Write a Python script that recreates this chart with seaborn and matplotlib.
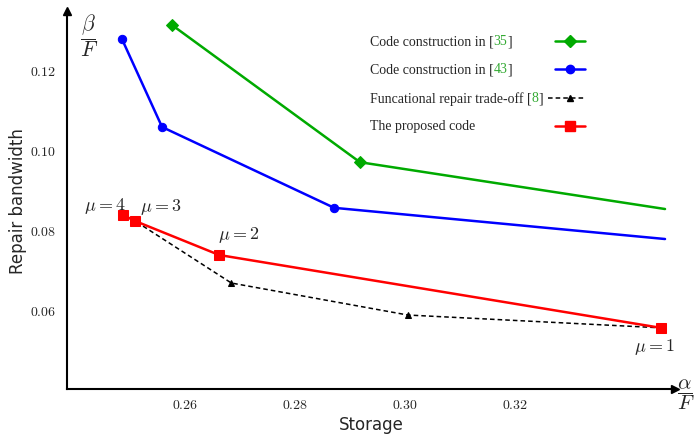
import numpy as np
import pandas as pd
import matplotlib
matplotlib.use("Agg")
import matplotlib.pyplot as plt
import seaborn as sns

# ---------------- data ----------------
storage_35 = [0.2576, 0.2918, 0.3473]
bw_35 = [0.1310, 0.0967, 0.0850]

storage_43 = [0.2485, 0.2558, 0.2871, 0.3473]
bw_43 = [0.1275, 0.1055, 0.0853, 0.0775]

storage_fr = [0.2487, 0.2509, 0.2684, 0.3005, 0.3465]
bw_fr = [0.0835, 0.0820, 0.0665, 0.0585, 0.0553]

storage_prop = [0.2487, 0.2509, 0.2662, 0.3465]
bw_prop = [0.0835, 0.0820, 0.0735, 0.0553]
mu_labels = [r"$\mu=4$", r"$\mu=3$", r"$\mu=2$", r"$\mu=1$"]

series_names = ["Code construction in [35]", "Code construction in [43]",
                "Funcational repair trade-off [8]", "The proposed code"]
series_colors = ["#00aa00", "#0000ff", "black", "#ff0000"]
x_ticks = [0.26, 0.28, 0.30, 0.32]
y_ticks = [0.06, 0.08, 0.10, 0.12]

df = pd.concat([
    pd.DataFrame({"storage": storage_35, "bw": bw_35, "series": series_names[0]}),
    pd.DataFrame({"storage": storage_43, "bw": bw_43, "series": series_names[1]}),
    pd.DataFrame({"storage": storage_fr, "bw": bw_fr, "series": series_names[2]}),
    pd.DataFrame({"storage": storage_prop, "bw": bw_prop, "series": series_names[3]}),
], ignore_index=True)

# ---------------- style ----------------
sns.set_style("white")
plt.rcParams["mathtext.fontset"] = "cm"
plt.rcParams["font.family"] = ["DejaVu Sans"]

fig = plt.figure(figsize=(6.94, 4.35), dpi=100)
ax = fig.add_axes([0.0965, 0.1034, 0.876, 0.869])

styles = {
    series_names[0]: dict(marker="D", ms=6, lw=1.8, ls="-", last=False),
    series_names[1]: dict(marker="o", ms=6, lw=1.8, ls="-", last=False),
    series_names[2]: dict(marker="^", ms=5, lw=1.1, ls=(0, (3, 2)), last=True),
    series_names[3]: dict(marker="s", ms=7, lw=1.8, ls="-", last=True),
}

# black drawn before red so the red squares sit on top
for name, color in zip(series_names, series_colors):
    st = styles[name]
    sub = df[df["series"] == name]
    n = len(sub)
    every = list(range(n)) if st["last"] else list(range(n - 1))
    sns.lineplot(data=sub, x="storage", y="bw", ax=ax,
                 color=color, marker=st["marker"], markersize=st["ms"],
                 markevery=every, linewidth=st["lw"], linestyle=st["ls"],
                 markeredgecolor=color, sort=False, legend=False)

ax.set_xlim(0.2385, 0.3491)
ax.set_ylim(0.04, 0.1345)
ax.set_xticks(x_ticks)
ax.set_xticklabels([rf"${v:.2f}$" for v in x_ticks], fontsize=10)
ax.set_yticks(y_ticks)
ax.set_yticklabels([rf"${v:.2f}$" for v in y_ticks], fontsize=10)
ax.tick_params(axis="x", length=0, pad=6)
ax.tick_params(axis="y", length=0, pad=8)

ax.set_xlabel("Storage", fontsize=12)
ax.xaxis.set_label_coords(0.5, -0.068)
ax.set_ylabel("Repair bandwidth", fontsize=12)
ax.yaxis.set_label_coords(-0.066, 0.5)

for s in ["top", "right"]:
    ax.spines[s].set_visible(False)
for s in ["left", "bottom"]:
    ax.spines[s].set_color("black")
    ax.spines[s].set_linewidth(1.5)

# axis arrows
ax.plot(1, 0, ">k", transform=ax.transAxes, clip_on=False, ms=6)
ax.plot(0, 1, "^k", transform=ax.transAxes, clip_on=False, ms=6)
ax.text(1.003, -0.012, r"$\dfrac{\alpha}{F}$", transform=ax.transAxes,
        fontsize=15, ha="left", va="center")
ax.text(0.021, 0.937, r"$\dfrac{\beta}{F}$", transform=ax.transAxes,
        fontsize=15.5, ha="left", va="center")

# mu annotations
mu_offsets = [(2, 0, "right", "bottom"), (3.6, 3.6, "left", "bottom"),
              (-1, 8, "left", "bottom"), (-19, -6, "left", "top")]
for lab, xv, yv, (dx, dy, ha, va) in zip(mu_labels, storage_prop, bw_prop, mu_offsets):
    ax.annotate(lab, (xv, yv), xytext=(dx, dy), textcoords="offset points",
                fontsize=13, ha=ha, va=va)

# legend drawn by hand (numbers in brackets are green)
legend_rows = [("Code construction in [", "35", "]"),
               ("Code construction in [", "43", "]"),
               ("Funcational repair trade-off [", "8", "]"),
               ("The proposed code", "", "")]
row_y = [0.921, 0.847, 0.770, 0.696]
fig.canvas.draw()
renderer = fig.canvas.get_renderer()
inv = ax.transAxes.inverted()
for (a, b, c), yy in zip(legend_rows, row_y):
    t = ax.text(0.498, yy, a, transform=ax.transAxes, fontsize=10,
                family="Liberation Serif", va="center")
    if b:
        x1 = inv.transform(t.get_window_extent(renderer).get_points())[1][0]
        t2 = ax.text(x1, yy, b, transform=ax.transAxes, fontsize=10,
                     family="Liberation Serif", va="center", color="#33aa33")
        x2 = inv.transform(t2.get_window_extent(renderer).get_points())[1][0]
        ax.text(x2, yy, c, transform=ax.transAxes, fontsize=10,
                family="Liberation Serif", va="center")

for name, color, yy in zip(series_names, series_colors, row_y):
    st = styles[name]
    x0 = 0.792 if name == series_names[2] else 0.803
    ax.plot([x0, 0.852], [yy, yy], transform=ax.transAxes, color=color,
            lw=st["lw"], ls=st["ls"], clip_on=False)
    ax.plot([0.827], [yy], transform=ax.transAxes, color=color,
            marker=st["marker"], ms=st["ms"], clip_on=False)

fig.savefig("out.png", dpi=100)
